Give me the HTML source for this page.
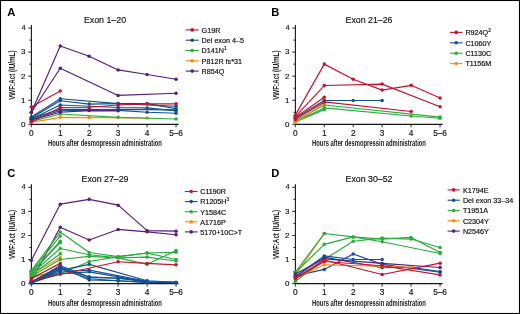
<!DOCTYPE html>
<html><head><meta charset="utf-8"><style>
html,body{margin:0;padding:0;background:#fff;}
body{width:520px;height:314px;overflow:hidden;}
svg{display:block;will-change:transform;font-family:"Liberation Sans",sans-serif;}
</style></head><body>
<svg width="520" height="314" viewBox="0 0 520 314" font-family="Liberation Sans, sans-serif">
<rect x="0" y="0" width="520" height="314" fill="#fff"/>
<g transform="translate(0,0)">
<text x="7.2" y="16.2" font-size="11.2" font-weight="bold" fill="#000">A</text>
<text x="105" y="22.7" font-size="8.8" text-anchor="middle" fill="#111" stroke="#111" stroke-width="0.15">Exon 1–20</text>
<line x1="31.4" y1="25" x2="31.4" y2="124.8" stroke="#151515" stroke-width="1.1"/>
<line x1="30.9" y1="124.4" x2="178.7" y2="124.4" stroke="#151515" stroke-width="1.2"/>
<line x1="28.2" y1="124.30" x2="31.4" y2="124.30" stroke="#151515" stroke-width="0.9"/>
<line x1="29.4" y1="112.27" x2="31.4" y2="112.27" stroke="#151515" stroke-width="0.9"/>
<text x="25.5" y="126.65" font-size="8.0" text-anchor="end" fill="#111" stroke="#111" stroke-width="0.15">0</text>
<line x1="28.2" y1="100.23" x2="31.4" y2="100.23" stroke="#151515" stroke-width="0.9"/>
<line x1="29.4" y1="88.19" x2="31.4" y2="88.19" stroke="#151515" stroke-width="0.9"/>
<text x="25.5" y="102.58" font-size="8.0" text-anchor="end" fill="#111" stroke="#111" stroke-width="0.15">1</text>
<line x1="28.2" y1="76.16" x2="31.4" y2="76.16" stroke="#151515" stroke-width="0.9"/>
<line x1="29.4" y1="64.12" x2="31.4" y2="64.12" stroke="#151515" stroke-width="0.9"/>
<text x="25.5" y="78.51" font-size="8.0" text-anchor="end" fill="#111" stroke="#111" stroke-width="0.15">2</text>
<line x1="28.2" y1="52.09" x2="31.4" y2="52.09" stroke="#151515" stroke-width="0.9"/>
<line x1="29.4" y1="40.05" x2="31.4" y2="40.05" stroke="#151515" stroke-width="0.9"/>
<text x="25.5" y="54.44" font-size="8.0" text-anchor="end" fill="#111" stroke="#111" stroke-width="0.15">3</text>
<line x1="28.2" y1="28.02" x2="31.4" y2="28.02" stroke="#151515" stroke-width="0.9"/>
<text x="25.5" y="29.92" font-size="6.8" text-anchor="end" fill="#111" stroke="#111" stroke-width="0.15">4</text>
<line x1="31.30" y1="124.3" x2="31.30" y2="127.3" stroke="#151515" stroke-width="0.9"/>
<text x="31.30" y="135.7" font-size="8.3" text-anchor="middle" fill="#111" stroke="#111" stroke-width="0.15">0</text>
<line x1="60.25" y1="124.3" x2="60.25" y2="127.3" stroke="#151515" stroke-width="0.9"/>
<text x="60.25" y="135.7" font-size="8.3" text-anchor="middle" fill="#111" stroke="#111" stroke-width="0.15">1</text>
<line x1="89.20" y1="124.3" x2="89.20" y2="127.3" stroke="#151515" stroke-width="0.9"/>
<text x="89.20" y="135.7" font-size="8.3" text-anchor="middle" fill="#111" stroke="#111" stroke-width="0.15">2</text>
<line x1="118.15" y1="124.3" x2="118.15" y2="127.3" stroke="#151515" stroke-width="0.9"/>
<text x="118.15" y="135.7" font-size="8.3" text-anchor="middle" fill="#111" stroke="#111" stroke-width="0.15">3</text>
<line x1="147.10" y1="124.3" x2="147.10" y2="127.3" stroke="#151515" stroke-width="0.9"/>
<text x="147.10" y="135.7" font-size="8.3" text-anchor="middle" fill="#111" stroke="#111" stroke-width="0.15">4</text>
<line x1="176.05" y1="124.3" x2="176.05" y2="127.3" stroke="#151515" stroke-width="0.9"/>
<text x="176.05" y="135.7" font-size="8.3" text-anchor="middle" fill="#111" stroke="#111" stroke-width="0.15">5–6</text>
<text x="48.1" y="146.4" font-size="9" font-weight="bold" textLength="113.8" lengthAdjust="spacingAndGlyphs" fill="#1a1a1a">Hours after desmopressin administration</text>
<text transform="translate(15.1,99.8) rotate(-90)" x="0" y="0" font-size="9.2" font-weight="bold" textLength="49.3" lengthAdjust="spacingAndGlyphs" fill="#1a1a1a">VWF:Act (IU/mL)</text>
<polyline points="31.30,117.08 60.25,98.79 118.15,103.60 176.05,106.25" fill="none" stroke="#10508f" stroke-width="1.15" stroke-linejoin="round"/>
<circle cx="31.30" cy="117.08" r="1.75" fill="#10508f"/>
<circle cx="60.25" cy="98.79" r="1.75" fill="#10508f"/>
<circle cx="118.15" cy="103.60" r="1.75" fill="#10508f"/>
<circle cx="176.05" cy="106.25" r="1.75" fill="#10508f"/>
<polyline points="31.30,118.04 60.25,100.71 89.20,104.08 118.15,103.60 147.10,103.60 176.05,108.65" fill="none" stroke="#10508f" stroke-width="1.15" stroke-linejoin="round"/>
<circle cx="31.30" cy="118.04" r="1.75" fill="#10508f"/>
<circle cx="60.25" cy="100.71" r="1.75" fill="#10508f"/>
<circle cx="89.20" cy="104.08" r="1.75" fill="#10508f"/>
<circle cx="118.15" cy="103.60" r="1.75" fill="#10508f"/>
<circle cx="147.10" cy="103.60" r="1.75" fill="#10508f"/>
<circle cx="176.05" cy="108.65" r="1.75" fill="#10508f"/>
<polyline points="31.30,119.00 60.25,105.04 118.15,107.45 147.10,107.93 176.05,110.82" fill="none" stroke="#10508f" stroke-width="1.15" stroke-linejoin="round"/>
<circle cx="31.30" cy="119.00" r="1.75" fill="#10508f"/>
<circle cx="60.25" cy="105.04" r="1.75" fill="#10508f"/>
<circle cx="118.15" cy="107.45" r="1.75" fill="#10508f"/>
<circle cx="147.10" cy="107.93" r="1.75" fill="#10508f"/>
<circle cx="176.05" cy="110.82" r="1.75" fill="#10508f"/>
<polyline points="31.30,118.52 60.25,109.38 89.20,109.38 118.15,110.34 147.10,112.27 176.05,113.23" fill="none" stroke="#10508f" stroke-width="1.15" stroke-linejoin="round"/>
<circle cx="31.30" cy="118.52" r="1.75" fill="#10508f"/>
<circle cx="60.25" cy="109.38" r="1.75" fill="#10508f"/>
<circle cx="89.20" cy="109.38" r="1.75" fill="#10508f"/>
<circle cx="118.15" cy="110.34" r="1.75" fill="#10508f"/>
<circle cx="147.10" cy="112.27" r="1.75" fill="#10508f"/>
<circle cx="176.05" cy="113.23" r="1.75" fill="#10508f"/>
<polyline points="31.30,119.49 60.25,110.82 118.15,109.38 176.05,109.86" fill="none" stroke="#10508f" stroke-width="1.15" stroke-linejoin="round"/>
<circle cx="31.30" cy="119.49" r="1.75" fill="#10508f"/>
<circle cx="60.25" cy="110.82" r="1.75" fill="#10508f"/>
<circle cx="118.15" cy="109.38" r="1.75" fill="#10508f"/>
<circle cx="176.05" cy="109.86" r="1.75" fill="#10508f"/>
<polyline points="31.30,122.37 60.25,117.32 89.20,117.56 147.10,118.04" fill="none" stroke="#fa8c0a" stroke-width="1.15" stroke-linejoin="round"/>
<circle cx="31.30" cy="122.37" r="1.75" fill="#fa8c0a"/>
<circle cx="60.25" cy="117.32" r="1.75" fill="#fa8c0a"/>
<circle cx="89.20" cy="117.56" r="1.75" fill="#fa8c0a"/>
<circle cx="147.10" cy="118.04" r="1.75" fill="#fa8c0a"/>
<polyline points="31.30,121.41 60.25,113.95 118.15,117.32 176.05,119.00" fill="none" stroke="#28ac3c" stroke-width="1.15" stroke-linejoin="round"/>
<circle cx="31.30" cy="121.41" r="1.75" fill="#28ac3c"/>
<circle cx="60.25" cy="113.95" r="1.75" fill="#28ac3c"/>
<circle cx="118.15" cy="117.32" r="1.75" fill="#28ac3c"/>
<circle cx="176.05" cy="119.00" r="1.75" fill="#28ac3c"/>
<polyline points="31.30,119.97 60.25,112.27 89.20,110.58 118.15,110.82" fill="none" stroke="#561d79" stroke-width="1.15" stroke-linejoin="round"/>
<circle cx="31.30" cy="119.97" r="1.75" fill="#561d79"/>
<circle cx="60.25" cy="112.27" r="1.75" fill="#561d79"/>
<circle cx="89.20" cy="110.58" r="1.75" fill="#561d79"/>
<circle cx="118.15" cy="110.82" r="1.75" fill="#561d79"/>
<polyline points="31.30,121.89 60.25,107.45 89.20,107.21 118.15,105.04 147.10,103.84 176.05,103.84" fill="none" stroke="#c8102e" stroke-width="1.15" stroke-linejoin="round"/>
<circle cx="31.30" cy="121.89" r="1.75" fill="#c8102e"/>
<circle cx="60.25" cy="107.45" r="1.75" fill="#c8102e"/>
<circle cx="89.20" cy="107.21" r="1.75" fill="#c8102e"/>
<circle cx="118.15" cy="105.04" r="1.75" fill="#c8102e"/>
<circle cx="147.10" cy="103.84" r="1.75" fill="#c8102e"/>
<circle cx="176.05" cy="103.84" r="1.75" fill="#c8102e"/>
<polyline points="31.30,106.97 60.25,91.08" fill="none" stroke="#c8102e" stroke-width="1.15" stroke-linejoin="round"/>
<circle cx="31.30" cy="106.97" r="1.75" fill="#c8102e"/>
<circle cx="60.25" cy="91.08" r="1.75" fill="#c8102e"/>
<polyline points="31.30,112.51 60.25,46.07 89.20,56.18 118.15,69.90 147.10,74.48 176.05,79.29" fill="none" stroke="#561d79" stroke-width="1.15" stroke-linejoin="round"/>
<circle cx="31.30" cy="112.51" r="1.75" fill="#561d79"/>
<circle cx="60.25" cy="46.07" r="1.75" fill="#561d79"/>
<circle cx="89.20" cy="56.18" r="1.75" fill="#561d79"/>
<circle cx="118.15" cy="69.90" r="1.75" fill="#561d79"/>
<circle cx="147.10" cy="74.48" r="1.75" fill="#561d79"/>
<circle cx="176.05" cy="79.29" r="1.75" fill="#561d79"/>
<polyline points="31.30,112.51 60.25,68.22 118.15,95.42 176.05,93.25" fill="none" stroke="#561d79" stroke-width="1.15" stroke-linejoin="round"/>
<circle cx="31.30" cy="112.51" r="1.75" fill="#561d79"/>
<circle cx="60.25" cy="68.22" r="1.75" fill="#561d79"/>
<circle cx="118.15" cy="95.42" r="1.75" fill="#561d79"/>
<circle cx="176.05" cy="93.25" r="1.75" fill="#561d79"/>
<line x1="185.7" y1="29.90" x2="198.7" y2="29.90" stroke="#c8102e" stroke-width="1.1"/>
<circle cx="192.20" cy="29.90" r="1.8" fill="#c8102e"/>
<text x="201.6" y="32.75" font-size="7.2" fill="#111" stroke="#111" stroke-width="0.18">G19R</text>
<line x1="185.7" y1="40.20" x2="198.7" y2="40.20" stroke="#10508f" stroke-width="1.1"/>
<circle cx="192.20" cy="40.20" r="1.8" fill="#10508f"/>
<text x="201.6" y="43.05" font-size="7.2" fill="#111" stroke="#111" stroke-width="0.18">Del exon 4–5</text>
<line x1="185.7" y1="50.50" x2="198.7" y2="50.50" stroke="#28ac3c" stroke-width="1.1"/>
<circle cx="192.20" cy="50.50" r="1.8" fill="#28ac3c"/>
<text x="201.6" y="53.35" font-size="7.2" fill="#111" stroke="#111" stroke-width="0.18">D141N<tspan font-size="4.6" dy="-3">1</tspan></text>
<line x1="185.7" y1="60.80" x2="198.7" y2="60.80" stroke="#fa8c0a" stroke-width="1.1"/>
<circle cx="192.20" cy="60.80" r="1.8" fill="#fa8c0a"/>
<text x="201.6" y="63.65" font-size="7.2" fill="#111" stroke="#111" stroke-width="0.18">P812R fs*31</text>
<line x1="185.7" y1="71.10" x2="198.7" y2="71.10" stroke="#561d79" stroke-width="1.1"/>
<circle cx="192.20" cy="71.10" r="1.8" fill="#561d79"/>
<text x="201.6" y="73.95" font-size="7.2" fill="#111" stroke="#111" stroke-width="0.18">R854Q</text>
</g>
<g transform="translate(264,0)">
<text x="7.2" y="16.2" font-size="11.2" font-weight="bold" fill="#000">B</text>
<text x="105" y="22.7" font-size="8.8" text-anchor="middle" fill="#111" stroke="#111" stroke-width="0.15">Exon 21–26</text>
<line x1="31.4" y1="25" x2="31.4" y2="124.8" stroke="#151515" stroke-width="1.1"/>
<line x1="30.9" y1="124.4" x2="178.7" y2="124.4" stroke="#151515" stroke-width="1.2"/>
<line x1="28.2" y1="124.30" x2="31.4" y2="124.30" stroke="#151515" stroke-width="0.9"/>
<line x1="29.4" y1="112.27" x2="31.4" y2="112.27" stroke="#151515" stroke-width="0.9"/>
<text x="25.5" y="126.65" font-size="8.0" text-anchor="end" fill="#111" stroke="#111" stroke-width="0.15">0</text>
<line x1="28.2" y1="100.23" x2="31.4" y2="100.23" stroke="#151515" stroke-width="0.9"/>
<line x1="29.4" y1="88.19" x2="31.4" y2="88.19" stroke="#151515" stroke-width="0.9"/>
<text x="25.5" y="102.58" font-size="8.0" text-anchor="end" fill="#111" stroke="#111" stroke-width="0.15">1</text>
<line x1="28.2" y1="76.16" x2="31.4" y2="76.16" stroke="#151515" stroke-width="0.9"/>
<line x1="29.4" y1="64.12" x2="31.4" y2="64.12" stroke="#151515" stroke-width="0.9"/>
<text x="25.5" y="78.51" font-size="8.0" text-anchor="end" fill="#111" stroke="#111" stroke-width="0.15">2</text>
<line x1="28.2" y1="52.09" x2="31.4" y2="52.09" stroke="#151515" stroke-width="0.9"/>
<line x1="29.4" y1="40.05" x2="31.4" y2="40.05" stroke="#151515" stroke-width="0.9"/>
<text x="25.5" y="54.44" font-size="8.0" text-anchor="end" fill="#111" stroke="#111" stroke-width="0.15">3</text>
<line x1="28.2" y1="28.02" x2="31.4" y2="28.02" stroke="#151515" stroke-width="0.9"/>
<text x="25.5" y="29.92" font-size="6.8" text-anchor="end" fill="#111" stroke="#111" stroke-width="0.15">4</text>
<line x1="31.30" y1="124.3" x2="31.30" y2="127.3" stroke="#151515" stroke-width="0.9"/>
<text x="31.30" y="135.7" font-size="8.3" text-anchor="middle" fill="#111" stroke="#111" stroke-width="0.15">0</text>
<line x1="60.25" y1="124.3" x2="60.25" y2="127.3" stroke="#151515" stroke-width="0.9"/>
<text x="60.25" y="135.7" font-size="8.3" text-anchor="middle" fill="#111" stroke="#111" stroke-width="0.15">1</text>
<line x1="89.20" y1="124.3" x2="89.20" y2="127.3" stroke="#151515" stroke-width="0.9"/>
<text x="89.20" y="135.7" font-size="8.3" text-anchor="middle" fill="#111" stroke="#111" stroke-width="0.15">2</text>
<line x1="118.15" y1="124.3" x2="118.15" y2="127.3" stroke="#151515" stroke-width="0.9"/>
<text x="118.15" y="135.7" font-size="8.3" text-anchor="middle" fill="#111" stroke="#111" stroke-width="0.15">3</text>
<line x1="147.10" y1="124.3" x2="147.10" y2="127.3" stroke="#151515" stroke-width="0.9"/>
<text x="147.10" y="135.7" font-size="8.3" text-anchor="middle" fill="#111" stroke="#111" stroke-width="0.15">4</text>
<line x1="176.05" y1="124.3" x2="176.05" y2="127.3" stroke="#151515" stroke-width="0.9"/>
<text x="176.05" y="135.7" font-size="8.3" text-anchor="middle" fill="#111" stroke="#111" stroke-width="0.15">5–6</text>
<text x="48.1" y="146.4" font-size="9" font-weight="bold" textLength="113.8" lengthAdjust="spacingAndGlyphs" fill="#1a1a1a">Hours after desmopressin administration</text>
<text transform="translate(15.1,99.8) rotate(-90)" x="0" y="0" font-size="9.2" font-weight="bold" textLength="49.3" lengthAdjust="spacingAndGlyphs" fill="#1a1a1a">VWF:Act (IU/mL)</text>
<polyline points="31.30,120.93 60.25,105.04 176.05,117.08" fill="none" stroke="#28ac3c" stroke-width="1.15" stroke-linejoin="round"/>
<circle cx="31.30" cy="120.93" r="1.75" fill="#28ac3c"/>
<circle cx="60.25" cy="105.04" r="1.75" fill="#28ac3c"/>
<circle cx="176.05" cy="117.08" r="1.75" fill="#28ac3c"/>
<polyline points="31.30,121.41 60.25,107.93 147.10,116.00 176.05,118.28" fill="none" stroke="#28ac3c" stroke-width="1.15" stroke-linejoin="round"/>
<circle cx="31.30" cy="121.41" r="1.75" fill="#28ac3c"/>
<circle cx="60.25" cy="107.93" r="1.75" fill="#28ac3c"/>
<circle cx="147.10" cy="116.00" r="1.75" fill="#28ac3c"/>
<circle cx="176.05" cy="118.28" r="1.75" fill="#28ac3c"/>
<polyline points="31.30,121.89 60.25,109.62" fill="none" stroke="#28ac3c" stroke-width="1.15" stroke-linejoin="round"/>
<circle cx="31.30" cy="121.89" r="1.75" fill="#28ac3c"/>
<circle cx="60.25" cy="109.62" r="1.75" fill="#28ac3c"/>
<polyline points="31.30,122.62 60.25,103.12" fill="none" stroke="#fa8c0a" stroke-width="1.15" stroke-linejoin="round"/>
<circle cx="31.30" cy="122.62" r="1.75" fill="#fa8c0a"/>
<circle cx="60.25" cy="103.12" r="1.75" fill="#fa8c0a"/>
<polyline points="31.30,118.28 60.25,100.47 89.20,100.47 118.15,100.47" fill="none" stroke="#10508f" stroke-width="1.15" stroke-linejoin="round"/>
<circle cx="31.30" cy="118.28" r="1.75" fill="#10508f"/>
<circle cx="60.25" cy="100.47" r="1.75" fill="#10508f"/>
<circle cx="89.20" cy="100.47" r="1.75" fill="#10508f"/>
<circle cx="118.15" cy="100.47" r="1.75" fill="#10508f"/>
<polyline points="31.30,119.49 60.25,101.91 147.10,111.54" fill="none" stroke="#c8102e" stroke-width="1.15" stroke-linejoin="round"/>
<circle cx="31.30" cy="119.49" r="1.75" fill="#c8102e"/>
<circle cx="60.25" cy="101.91" r="1.75" fill="#c8102e"/>
<circle cx="147.10" cy="111.54" r="1.75" fill="#c8102e"/>
<polyline points="31.30,117.56 60.25,97.34" fill="none" stroke="#c8102e" stroke-width="1.15" stroke-linejoin="round"/>
<circle cx="31.30" cy="117.56" r="1.75" fill="#c8102e"/>
<circle cx="60.25" cy="97.34" r="1.75" fill="#c8102e"/>
<polyline points="31.30,116.60 60.25,85.55 118.15,84.10 176.05,106.73" fill="none" stroke="#c8102e" stroke-width="1.15" stroke-linejoin="round"/>
<circle cx="31.30" cy="116.60" r="1.75" fill="#c8102e"/>
<circle cx="60.25" cy="85.55" r="1.75" fill="#c8102e"/>
<circle cx="118.15" cy="84.10" r="1.75" fill="#c8102e"/>
<circle cx="176.05" cy="106.73" r="1.75" fill="#c8102e"/>
<polyline points="31.30,115.15 60.25,64.12 89.20,79.29 118.15,90.12 147.10,85.31 176.05,98.06" fill="none" stroke="#c8102e" stroke-width="1.15" stroke-linejoin="round"/>
<circle cx="31.30" cy="115.15" r="1.75" fill="#c8102e"/>
<circle cx="60.25" cy="64.12" r="1.75" fill="#c8102e"/>
<circle cx="89.20" cy="79.29" r="1.75" fill="#c8102e"/>
<circle cx="118.15" cy="90.12" r="1.75" fill="#c8102e"/>
<circle cx="147.10" cy="85.31" r="1.75" fill="#c8102e"/>
<circle cx="176.05" cy="98.06" r="1.75" fill="#c8102e"/>
<line x1="185.9" y1="32.40" x2="198.5" y2="32.40" stroke="#c8102e" stroke-width="1.1"/>
<circle cx="192.20" cy="32.40" r="1.8" fill="#c8102e"/>
<text x="201.4" y="35.25" font-size="7.2" fill="#111" stroke="#111" stroke-width="0.18">R924Q<tspan font-size="4.6" dy="-3">2</tspan></text>
<line x1="185.9" y1="42.80" x2="198.5" y2="42.80" stroke="#10508f" stroke-width="1.1"/>
<circle cx="192.20" cy="42.80" r="1.8" fill="#10508f"/>
<text x="201.4" y="45.65" font-size="7.2" fill="#111" stroke="#111" stroke-width="0.18">C1060Y</text>
<line x1="185.9" y1="53.20" x2="198.5" y2="53.20" stroke="#28ac3c" stroke-width="1.1"/>
<circle cx="192.20" cy="53.20" r="1.8" fill="#28ac3c"/>
<text x="201.4" y="56.05" font-size="7.2" fill="#111" stroke="#111" stroke-width="0.18">C1130C</text>
<line x1="185.9" y1="63.60" x2="198.5" y2="63.60" stroke="#fa8c0a" stroke-width="1.1"/>
<circle cx="192.20" cy="63.60" r="1.8" fill="#fa8c0a"/>
<text x="201.4" y="66.45" font-size="7.2" fill="#111" stroke="#111" stroke-width="0.18">T1156M</text>
</g>
<g transform="translate(0,159.3)">
<text x="7.2" y="18.2" font-size="11.2" font-weight="bold" fill="#000">C</text>
<text x="105" y="22.7" font-size="8.8" text-anchor="middle" fill="#111" stroke="#111" stroke-width="0.15">Exon 27–29</text>
<line x1="31.4" y1="25" x2="31.4" y2="124.8" stroke="#151515" stroke-width="1.1"/>
<line x1="30.9" y1="124.4" x2="178.7" y2="124.4" stroke="#151515" stroke-width="1.2"/>
<line x1="28.2" y1="124.30" x2="31.4" y2="124.30" stroke="#151515" stroke-width="0.9"/>
<line x1="29.4" y1="112.27" x2="31.4" y2="112.27" stroke="#151515" stroke-width="0.9"/>
<text x="25.5" y="126.65" font-size="8.0" text-anchor="end" fill="#111" stroke="#111" stroke-width="0.15">0</text>
<line x1="28.2" y1="100.23" x2="31.4" y2="100.23" stroke="#151515" stroke-width="0.9"/>
<line x1="29.4" y1="88.19" x2="31.4" y2="88.19" stroke="#151515" stroke-width="0.9"/>
<text x="25.5" y="102.58" font-size="8.0" text-anchor="end" fill="#111" stroke="#111" stroke-width="0.15">1</text>
<line x1="28.2" y1="76.16" x2="31.4" y2="76.16" stroke="#151515" stroke-width="0.9"/>
<line x1="29.4" y1="64.12" x2="31.4" y2="64.12" stroke="#151515" stroke-width="0.9"/>
<text x="25.5" y="78.51" font-size="8.0" text-anchor="end" fill="#111" stroke="#111" stroke-width="0.15">2</text>
<line x1="28.2" y1="52.09" x2="31.4" y2="52.09" stroke="#151515" stroke-width="0.9"/>
<line x1="29.4" y1="40.05" x2="31.4" y2="40.05" stroke="#151515" stroke-width="0.9"/>
<text x="25.5" y="54.44" font-size="8.0" text-anchor="end" fill="#111" stroke="#111" stroke-width="0.15">3</text>
<line x1="28.2" y1="28.02" x2="31.4" y2="28.02" stroke="#151515" stroke-width="0.9"/>
<text x="25.5" y="29.92" font-size="6.8" text-anchor="end" fill="#111" stroke="#111" stroke-width="0.15">4</text>
<line x1="31.30" y1="124.3" x2="31.30" y2="127.3" stroke="#151515" stroke-width="0.9"/>
<text x="31.30" y="135.7" font-size="8.3" text-anchor="middle" fill="#111" stroke="#111" stroke-width="0.15">0</text>
<line x1="60.25" y1="124.3" x2="60.25" y2="127.3" stroke="#151515" stroke-width="0.9"/>
<text x="60.25" y="135.7" font-size="8.3" text-anchor="middle" fill="#111" stroke="#111" stroke-width="0.15">1</text>
<line x1="89.20" y1="124.3" x2="89.20" y2="127.3" stroke="#151515" stroke-width="0.9"/>
<text x="89.20" y="135.7" font-size="8.3" text-anchor="middle" fill="#111" stroke="#111" stroke-width="0.15">2</text>
<line x1="118.15" y1="124.3" x2="118.15" y2="127.3" stroke="#151515" stroke-width="0.9"/>
<text x="118.15" y="135.7" font-size="8.3" text-anchor="middle" fill="#111" stroke="#111" stroke-width="0.15">3</text>
<line x1="147.10" y1="124.3" x2="147.10" y2="127.3" stroke="#151515" stroke-width="0.9"/>
<text x="147.10" y="135.7" font-size="8.3" text-anchor="middle" fill="#111" stroke="#111" stroke-width="0.15">4</text>
<line x1="176.05" y1="124.3" x2="176.05" y2="127.3" stroke="#151515" stroke-width="0.9"/>
<text x="176.05" y="135.7" font-size="8.3" text-anchor="middle" fill="#111" stroke="#111" stroke-width="0.15">5–6</text>
<text x="48.1" y="146.4" font-size="9" font-weight="bold" textLength="113.8" lengthAdjust="spacingAndGlyphs" fill="#1a1a1a">Hours after desmopressin administration</text>
<text transform="translate(15.1,99.8) rotate(-90)" x="0" y="0" font-size="9.2" font-weight="bold" textLength="49.3" lengthAdjust="spacingAndGlyphs" fill="#1a1a1a">VWF:Act (IU/mL)</text>
<polyline points="31.30,101.19 60.25,44.87 89.20,40.05 118.15,45.83 147.10,71.35 176.05,71.83" fill="none" stroke="#561d79" stroke-width="1.15" stroke-linejoin="round"/>
<circle cx="31.30" cy="101.19" r="1.75" fill="#561d79"/>
<circle cx="60.25" cy="44.87" r="1.75" fill="#561d79"/>
<circle cx="89.20" cy="40.05" r="1.75" fill="#561d79"/>
<circle cx="118.15" cy="45.83" r="1.75" fill="#561d79"/>
<circle cx="147.10" cy="71.35" r="1.75" fill="#561d79"/>
<circle cx="176.05" cy="71.83" r="1.75" fill="#561d79"/>
<polyline points="31.30,121.89 60.25,67.98 89.20,80.73 118.15,70.14 147.10,72.55 176.05,75.44" fill="none" stroke="#561d79" stroke-width="1.15" stroke-linejoin="round"/>
<circle cx="31.30" cy="121.89" r="1.75" fill="#561d79"/>
<circle cx="60.25" cy="67.98" r="1.75" fill="#561d79"/>
<circle cx="89.20" cy="80.73" r="1.75" fill="#561d79"/>
<circle cx="118.15" cy="70.14" r="1.75" fill="#561d79"/>
<circle cx="147.10" cy="72.55" r="1.75" fill="#561d79"/>
<circle cx="176.05" cy="75.44" r="1.75" fill="#561d79"/>
<polyline points="31.30,115.15 60.25,98.30" fill="none" stroke="#fa8c0a" stroke-width="1.15" stroke-linejoin="round"/>
<circle cx="31.30" cy="115.15" r="1.75" fill="#fa8c0a"/>
<circle cx="60.25" cy="98.30" r="1.75" fill="#fa8c0a"/>
<polyline points="31.30,111.30 60.25,72.79 89.20,93.25 118.15,97.34 147.10,93.73 176.05,93.01" fill="none" stroke="#28ac3c" stroke-width="1.15" stroke-linejoin="round"/>
<circle cx="31.30" cy="111.30" r="1.75" fill="#28ac3c"/>
<circle cx="60.25" cy="72.79" r="1.75" fill="#28ac3c"/>
<circle cx="89.20" cy="93.25" r="1.75" fill="#28ac3c"/>
<circle cx="118.15" cy="97.34" r="1.75" fill="#28ac3c"/>
<circle cx="147.10" cy="93.73" r="1.75" fill="#28ac3c"/>
<circle cx="176.05" cy="93.01" r="1.75" fill="#28ac3c"/>
<polyline points="31.30,112.27 60.25,76.64" fill="none" stroke="#28ac3c" stroke-width="1.15" stroke-linejoin="round"/>
<circle cx="31.30" cy="112.27" r="1.75" fill="#28ac3c"/>
<circle cx="60.25" cy="76.64" r="1.75" fill="#28ac3c"/>
<polyline points="31.30,113.23 60.25,81.94" fill="none" stroke="#28ac3c" stroke-width="1.15" stroke-linejoin="round"/>
<circle cx="31.30" cy="113.23" r="1.75" fill="#28ac3c"/>
<circle cx="60.25" cy="81.94" r="1.75" fill="#28ac3c"/>
<polyline points="31.30,113.71 60.25,83.14" fill="none" stroke="#28ac3c" stroke-width="1.15" stroke-linejoin="round"/>
<circle cx="31.30" cy="113.71" r="1.75" fill="#28ac3c"/>
<circle cx="60.25" cy="83.14" r="1.75" fill="#28ac3c"/>
<polyline points="31.30,114.67 60.25,89.16 89.20,95.42 118.15,98.55 147.10,105.04 176.05,91.32" fill="none" stroke="#28ac3c" stroke-width="1.15" stroke-linejoin="round"/>
<circle cx="31.30" cy="114.67" r="1.75" fill="#28ac3c"/>
<circle cx="60.25" cy="89.16" r="1.75" fill="#28ac3c"/>
<circle cx="89.20" cy="95.42" r="1.75" fill="#28ac3c"/>
<circle cx="118.15" cy="98.55" r="1.75" fill="#28ac3c"/>
<circle cx="147.10" cy="105.04" r="1.75" fill="#28ac3c"/>
<circle cx="176.05" cy="91.32" r="1.75" fill="#28ac3c"/>
<polyline points="31.30,115.63 60.25,94.45" fill="none" stroke="#28ac3c" stroke-width="1.15" stroke-linejoin="round"/>
<circle cx="31.30" cy="115.63" r="1.75" fill="#28ac3c"/>
<circle cx="60.25" cy="94.45" r="1.75" fill="#28ac3c"/>
<polyline points="31.30,117.08 60.25,100.23 89.20,97.10 118.15,98.55 147.10,97.82 176.05,101.67" fill="none" stroke="#28ac3c" stroke-width="1.15" stroke-linejoin="round"/>
<circle cx="31.30" cy="117.08" r="1.75" fill="#28ac3c"/>
<circle cx="60.25" cy="100.23" r="1.75" fill="#28ac3c"/>
<circle cx="89.20" cy="97.10" r="1.75" fill="#28ac3c"/>
<circle cx="118.15" cy="98.55" r="1.75" fill="#28ac3c"/>
<circle cx="147.10" cy="97.82" r="1.75" fill="#28ac3c"/>
<circle cx="176.05" cy="101.67" r="1.75" fill="#28ac3c"/>
<polyline points="31.30,116.12 60.25,114.67 89.20,102.16 118.15,97.34 147.10,93.73 176.05,100.23" fill="none" stroke="#28ac3c" stroke-width="1.15" stroke-linejoin="round"/>
<circle cx="31.30" cy="116.12" r="1.75" fill="#28ac3c"/>
<circle cx="60.25" cy="114.67" r="1.75" fill="#28ac3c"/>
<circle cx="89.20" cy="102.16" r="1.75" fill="#28ac3c"/>
<circle cx="118.15" cy="97.34" r="1.75" fill="#28ac3c"/>
<circle cx="147.10" cy="93.73" r="1.75" fill="#28ac3c"/>
<circle cx="176.05" cy="100.23" r="1.75" fill="#28ac3c"/>
<polyline points="31.30,119.00 60.25,109.86" fill="none" stroke="#fa8c0a" stroke-width="1.15" stroke-linejoin="round"/>
<circle cx="31.30" cy="119.00" r="1.75" fill="#fa8c0a"/>
<circle cx="60.25" cy="109.86" r="1.75" fill="#fa8c0a"/>
<polyline points="31.30,123.10 60.25,106.25 89.20,118.04 118.15,119.00 147.10,122.62 176.05,123.10" fill="none" stroke="#10508f" stroke-width="1.15" stroke-linejoin="round"/>
<circle cx="31.30" cy="123.10" r="1.75" fill="#10508f"/>
<circle cx="60.25" cy="106.25" r="1.75" fill="#10508f"/>
<circle cx="89.20" cy="118.04" r="1.75" fill="#10508f"/>
<circle cx="118.15" cy="119.00" r="1.75" fill="#10508f"/>
<circle cx="147.10" cy="122.62" r="1.75" fill="#10508f"/>
<circle cx="176.05" cy="123.10" r="1.75" fill="#10508f"/>
<polyline points="31.30,122.37 60.25,107.45 89.20,120.69 118.15,121.41 147.10,123.10" fill="none" stroke="#10508f" stroke-width="1.15" stroke-linejoin="round"/>
<circle cx="31.30" cy="122.37" r="1.75" fill="#10508f"/>
<circle cx="60.25" cy="107.45" r="1.75" fill="#10508f"/>
<circle cx="89.20" cy="120.69" r="1.75" fill="#10508f"/>
<circle cx="118.15" cy="121.41" r="1.75" fill="#10508f"/>
<circle cx="147.10" cy="123.10" r="1.75" fill="#10508f"/>
<polyline points="31.30,123.58 60.25,111.06 89.20,105.04 147.10,121.41 176.05,123.10" fill="none" stroke="#10508f" stroke-width="1.15" stroke-linejoin="round"/>
<circle cx="31.30" cy="123.58" r="1.75" fill="#10508f"/>
<circle cx="60.25" cy="111.06" r="1.75" fill="#10508f"/>
<circle cx="89.20" cy="105.04" r="1.75" fill="#10508f"/>
<circle cx="147.10" cy="121.41" r="1.75" fill="#10508f"/>
<circle cx="176.05" cy="123.10" r="1.75" fill="#10508f"/>
<polyline points="31.30,123.82 60.25,112.75 89.20,110.82 147.10,121.89" fill="none" stroke="#10508f" stroke-width="1.15" stroke-linejoin="round"/>
<circle cx="31.30" cy="123.82" r="1.75" fill="#10508f"/>
<circle cx="60.25" cy="112.75" r="1.75" fill="#10508f"/>
<circle cx="89.20" cy="110.82" r="1.75" fill="#10508f"/>
<circle cx="147.10" cy="121.89" r="1.75" fill="#10508f"/>
<polyline points="31.30,123.10 60.25,114.67 89.20,112.51 147.10,122.62 176.05,123.10" fill="none" stroke="#10508f" stroke-width="1.15" stroke-linejoin="round"/>
<circle cx="31.30" cy="123.10" r="1.75" fill="#10508f"/>
<circle cx="60.25" cy="114.67" r="1.75" fill="#10508f"/>
<circle cx="89.20" cy="112.51" r="1.75" fill="#10508f"/>
<circle cx="147.10" cy="122.62" r="1.75" fill="#10508f"/>
<circle cx="176.05" cy="123.10" r="1.75" fill="#10508f"/>
<polyline points="31.30,123.82 60.25,109.38 89.20,119.49 118.15,121.41 147.10,123.10 176.05,123.34" fill="none" stroke="#10508f" stroke-width="1.15" stroke-linejoin="round"/>
<circle cx="31.30" cy="123.82" r="1.75" fill="#10508f"/>
<circle cx="60.25" cy="109.38" r="1.75" fill="#10508f"/>
<circle cx="89.20" cy="119.49" r="1.75" fill="#10508f"/>
<circle cx="118.15" cy="121.41" r="1.75" fill="#10508f"/>
<circle cx="147.10" cy="123.10" r="1.75" fill="#10508f"/>
<circle cx="176.05" cy="123.34" r="1.75" fill="#10508f"/>
<polyline points="31.30,123.34 60.25,108.41 89.20,117.56 118.15,119.00 147.10,121.89" fill="none" stroke="#10508f" stroke-width="1.15" stroke-linejoin="round"/>
<circle cx="31.30" cy="123.34" r="1.75" fill="#10508f"/>
<circle cx="60.25" cy="108.41" r="1.75" fill="#10508f"/>
<circle cx="89.20" cy="117.56" r="1.75" fill="#10508f"/>
<circle cx="118.15" cy="119.00" r="1.75" fill="#10508f"/>
<circle cx="147.10" cy="121.89" r="1.75" fill="#10508f"/>
<polyline points="31.30,119.25 60.25,104.08" fill="none" stroke="#c8102e" stroke-width="1.15" stroke-linejoin="round"/>
<circle cx="31.30" cy="119.25" r="1.75" fill="#c8102e"/>
<circle cx="60.25" cy="104.08" r="1.75" fill="#c8102e"/>
<polyline points="31.30,121.41 118.15,102.40 147.10,104.08 176.05,105.53" fill="none" stroke="#c8102e" stroke-width="1.15" stroke-linejoin="round"/>
<circle cx="31.30" cy="121.41" r="1.75" fill="#c8102e"/>
<circle cx="118.15" cy="102.40" r="1.75" fill="#c8102e"/>
<circle cx="147.10" cy="104.08" r="1.75" fill="#c8102e"/>
<circle cx="176.05" cy="105.53" r="1.75" fill="#c8102e"/>
<line x1="184.8" y1="32.20" x2="197.6" y2="32.20" stroke="#c8102e" stroke-width="1.1"/>
<circle cx="191.20" cy="32.20" r="1.8" fill="#c8102e"/>
<text x="200.2" y="35.05" font-size="7.2" fill="#111" stroke="#111" stroke-width="0.18">C1190R</text>
<line x1="184.8" y1="42.30" x2="197.6" y2="42.30" stroke="#10508f" stroke-width="1.1"/>
<circle cx="191.20" cy="42.30" r="1.8" fill="#10508f"/>
<text x="200.2" y="45.15" font-size="7.2" fill="#111" stroke="#111" stroke-width="0.18">R1205H<tspan font-size="4.6" dy="-3">3</tspan></text>
<line x1="184.8" y1="52.40" x2="197.6" y2="52.40" stroke="#28ac3c" stroke-width="1.1"/>
<circle cx="191.20" cy="52.40" r="1.8" fill="#28ac3c"/>
<text x="200.2" y="55.25" font-size="7.2" fill="#111" stroke="#111" stroke-width="0.18">Y1584C</text>
<line x1="184.8" y1="62.50" x2="197.6" y2="62.50" stroke="#fa8c0a" stroke-width="1.1"/>
<circle cx="191.20" cy="62.50" r="1.8" fill="#fa8c0a"/>
<text x="200.2" y="65.35" font-size="7.2" fill="#111" stroke="#111" stroke-width="0.18">A1716P</text>
<line x1="184.8" y1="72.60" x2="197.6" y2="72.60" stroke="#561d79" stroke-width="1.1"/>
<circle cx="191.20" cy="72.60" r="1.8" fill="#561d79"/>
<text x="200.2" y="75.45" font-size="7.2" fill="#111" stroke="#111" stroke-width="0.18">5170+10C&gt;T</text>
</g>
<g transform="translate(264,159.3)">
<text x="7.2" y="18.2" font-size="11.2" font-weight="bold" fill="#000">D</text>
<text x="105" y="22.7" font-size="8.8" text-anchor="middle" fill="#111" stroke="#111" stroke-width="0.15">Exon 30–52</text>
<line x1="31.4" y1="25" x2="31.4" y2="124.8" stroke="#151515" stroke-width="1.1"/>
<line x1="30.9" y1="124.4" x2="178.7" y2="124.4" stroke="#151515" stroke-width="1.2"/>
<line x1="28.2" y1="124.30" x2="31.4" y2="124.30" stroke="#151515" stroke-width="0.9"/>
<line x1="29.4" y1="112.27" x2="31.4" y2="112.27" stroke="#151515" stroke-width="0.9"/>
<text x="25.5" y="126.65" font-size="8.0" text-anchor="end" fill="#111" stroke="#111" stroke-width="0.15">0</text>
<line x1="28.2" y1="100.23" x2="31.4" y2="100.23" stroke="#151515" stroke-width="0.9"/>
<line x1="29.4" y1="88.19" x2="31.4" y2="88.19" stroke="#151515" stroke-width="0.9"/>
<text x="25.5" y="102.58" font-size="8.0" text-anchor="end" fill="#111" stroke="#111" stroke-width="0.15">1</text>
<line x1="28.2" y1="76.16" x2="31.4" y2="76.16" stroke="#151515" stroke-width="0.9"/>
<line x1="29.4" y1="64.12" x2="31.4" y2="64.12" stroke="#151515" stroke-width="0.9"/>
<text x="25.5" y="78.51" font-size="8.0" text-anchor="end" fill="#111" stroke="#111" stroke-width="0.15">2</text>
<line x1="28.2" y1="52.09" x2="31.4" y2="52.09" stroke="#151515" stroke-width="0.9"/>
<line x1="29.4" y1="40.05" x2="31.4" y2="40.05" stroke="#151515" stroke-width="0.9"/>
<text x="25.5" y="54.44" font-size="8.0" text-anchor="end" fill="#111" stroke="#111" stroke-width="0.15">3</text>
<line x1="28.2" y1="28.02" x2="31.4" y2="28.02" stroke="#151515" stroke-width="0.9"/>
<text x="25.5" y="29.92" font-size="6.8" text-anchor="end" fill="#111" stroke="#111" stroke-width="0.15">4</text>
<line x1="31.30" y1="124.3" x2="31.30" y2="127.3" stroke="#151515" stroke-width="0.9"/>
<text x="31.30" y="135.7" font-size="8.3" text-anchor="middle" fill="#111" stroke="#111" stroke-width="0.15">0</text>
<line x1="60.25" y1="124.3" x2="60.25" y2="127.3" stroke="#151515" stroke-width="0.9"/>
<text x="60.25" y="135.7" font-size="8.3" text-anchor="middle" fill="#111" stroke="#111" stroke-width="0.15">1</text>
<line x1="89.20" y1="124.3" x2="89.20" y2="127.3" stroke="#151515" stroke-width="0.9"/>
<text x="89.20" y="135.7" font-size="8.3" text-anchor="middle" fill="#111" stroke="#111" stroke-width="0.15">2</text>
<line x1="118.15" y1="124.3" x2="118.15" y2="127.3" stroke="#151515" stroke-width="0.9"/>
<text x="118.15" y="135.7" font-size="8.3" text-anchor="middle" fill="#111" stroke="#111" stroke-width="0.15">3</text>
<line x1="147.10" y1="124.3" x2="147.10" y2="127.3" stroke="#151515" stroke-width="0.9"/>
<text x="147.10" y="135.7" font-size="8.3" text-anchor="middle" fill="#111" stroke="#111" stroke-width="0.15">4</text>
<line x1="176.05" y1="124.3" x2="176.05" y2="127.3" stroke="#151515" stroke-width="0.9"/>
<text x="176.05" y="135.7" font-size="8.3" text-anchor="middle" fill="#111" stroke="#111" stroke-width="0.15">5–6</text>
<text x="48.1" y="146.4" font-size="9" font-weight="bold" textLength="113.8" lengthAdjust="spacingAndGlyphs" fill="#1a1a1a">Hours after desmopressin administration</text>
<text transform="translate(15.1,99.8) rotate(-90)" x="0" y="0" font-size="9.2" font-weight="bold" textLength="49.3" lengthAdjust="spacingAndGlyphs" fill="#1a1a1a">VWF:Act (IU/mL)</text>
<polyline points="31.30,116.12 60.25,74.23" fill="none" stroke="#fa8c0a" stroke-width="1.15" stroke-linejoin="round"/>
<circle cx="31.30" cy="116.12" r="1.75" fill="#fa8c0a"/>
<circle cx="60.25" cy="74.23" r="1.75" fill="#fa8c0a"/>
<polyline points="31.30,112.99 60.25,74.23 89.20,77.60 118.15,79.77 147.10,78.09 176.05,93.25" fill="none" stroke="#28ac3c" stroke-width="1.15" stroke-linejoin="round"/>
<circle cx="31.30" cy="112.99" r="1.75" fill="#28ac3c"/>
<circle cx="60.25" cy="74.23" r="1.75" fill="#28ac3c"/>
<circle cx="89.20" cy="77.60" r="1.75" fill="#28ac3c"/>
<circle cx="118.15" cy="79.77" r="1.75" fill="#28ac3c"/>
<circle cx="147.10" cy="78.09" r="1.75" fill="#28ac3c"/>
<circle cx="176.05" cy="93.25" r="1.75" fill="#28ac3c"/>
<polyline points="31.30,113.47 60.25,85.07 89.20,77.60 118.15,82.42 176.05,94.21" fill="none" stroke="#28ac3c" stroke-width="1.15" stroke-linejoin="round"/>
<circle cx="31.30" cy="113.47" r="1.75" fill="#28ac3c"/>
<circle cx="60.25" cy="85.07" r="1.75" fill="#28ac3c"/>
<circle cx="89.20" cy="77.60" r="1.75" fill="#28ac3c"/>
<circle cx="118.15" cy="82.42" r="1.75" fill="#28ac3c"/>
<circle cx="176.05" cy="94.21" r="1.75" fill="#28ac3c"/>
<polyline points="31.30,122.13 60.25,100.23 89.20,81.94 118.15,78.81 147.10,79.77 176.05,88.19" fill="none" stroke="#28ac3c" stroke-width="1.15" stroke-linejoin="round"/>
<circle cx="31.30" cy="122.13" r="1.75" fill="#28ac3c"/>
<circle cx="60.25" cy="100.23" r="1.75" fill="#28ac3c"/>
<circle cx="89.20" cy="81.94" r="1.75" fill="#28ac3c"/>
<circle cx="118.15" cy="78.81" r="1.75" fill="#28ac3c"/>
<circle cx="147.10" cy="79.77" r="1.75" fill="#28ac3c"/>
<circle cx="176.05" cy="88.19" r="1.75" fill="#28ac3c"/>
<polyline points="31.30,116.60 60.25,110.10 89.20,94.69 118.15,105.04 176.05,112.99" fill="none" stroke="#10508f" stroke-width="1.15" stroke-linejoin="round"/>
<circle cx="31.30" cy="116.60" r="1.75" fill="#10508f"/>
<circle cx="60.25" cy="110.10" r="1.75" fill="#10508f"/>
<circle cx="89.20" cy="94.69" r="1.75" fill="#10508f"/>
<circle cx="118.15" cy="105.04" r="1.75" fill="#10508f"/>
<circle cx="176.05" cy="112.99" r="1.75" fill="#10508f"/>
<polyline points="31.30,117.08 60.25,96.62 89.20,100.23 118.15,100.23" fill="none" stroke="#10508f" stroke-width="1.15" stroke-linejoin="round"/>
<circle cx="31.30" cy="117.08" r="1.75" fill="#10508f"/>
<circle cx="60.25" cy="96.62" r="1.75" fill="#10508f"/>
<circle cx="89.20" cy="100.23" r="1.75" fill="#10508f"/>
<circle cx="118.15" cy="100.23" r="1.75" fill="#10508f"/>
<polyline points="31.30,117.56 60.25,97.82 118.15,108.41 147.10,107.93 176.05,112.27" fill="none" stroke="#10508f" stroke-width="1.15" stroke-linejoin="round"/>
<circle cx="31.30" cy="117.56" r="1.75" fill="#10508f"/>
<circle cx="60.25" cy="97.82" r="1.75" fill="#10508f"/>
<circle cx="118.15" cy="108.41" r="1.75" fill="#10508f"/>
<circle cx="147.10" cy="107.93" r="1.75" fill="#10508f"/>
<circle cx="176.05" cy="112.27" r="1.75" fill="#10508f"/>
<polyline points="31.30,114.67 60.25,99.51 118.15,104.08 176.05,108.17" fill="none" stroke="#561d79" stroke-width="1.15" stroke-linejoin="round"/>
<circle cx="31.30" cy="114.67" r="1.75" fill="#561d79"/>
<circle cx="60.25" cy="99.51" r="1.75" fill="#561d79"/>
<circle cx="118.15" cy="104.08" r="1.75" fill="#561d79"/>
<circle cx="176.05" cy="108.17" r="1.75" fill="#561d79"/>
<polyline points="31.30,119.00 60.25,105.53 118.15,106.97 147.10,107.93" fill="none" stroke="#fa8c0a" stroke-width="1.15" stroke-linejoin="round"/>
<circle cx="31.30" cy="119.00" r="1.75" fill="#fa8c0a"/>
<circle cx="60.25" cy="105.53" r="1.75" fill="#fa8c0a"/>
<circle cx="118.15" cy="106.97" r="1.75" fill="#fa8c0a"/>
<circle cx="147.10" cy="107.93" r="1.75" fill="#fa8c0a"/>
<polyline points="31.30,118.76 60.25,100.71 118.15,115.15 176.05,103.84" fill="none" stroke="#c8102e" stroke-width="1.15" stroke-linejoin="round"/>
<circle cx="31.30" cy="118.76" r="1.75" fill="#c8102e"/>
<circle cx="60.25" cy="100.71" r="1.75" fill="#c8102e"/>
<circle cx="118.15" cy="115.15" r="1.75" fill="#c8102e"/>
<circle cx="176.05" cy="103.84" r="1.75" fill="#c8102e"/>
<polyline points="31.30,119.49 60.25,102.16 118.15,106.49 176.05,115.63" fill="none" stroke="#c8102e" stroke-width="1.15" stroke-linejoin="round"/>
<circle cx="31.30" cy="119.49" r="1.75" fill="#c8102e"/>
<circle cx="60.25" cy="102.16" r="1.75" fill="#c8102e"/>
<circle cx="118.15" cy="106.49" r="1.75" fill="#c8102e"/>
<circle cx="176.05" cy="115.63" r="1.75" fill="#c8102e"/>
<line x1="183.6" y1="30.60" x2="195.7" y2="30.60" stroke="#c8102e" stroke-width="1.1"/>
<circle cx="189.65" cy="30.60" r="1.8" fill="#c8102e"/>
<text x="198.9" y="33.45" font-size="7.2" fill="#111" stroke="#111" stroke-width="0.18">K1794E</text>
<line x1="183.6" y1="40.90" x2="195.7" y2="40.90" stroke="#10508f" stroke-width="1.1"/>
<circle cx="189.65" cy="40.90" r="1.8" fill="#10508f"/>
<text x="198.9" y="43.75" font-size="7.2" fill="#111" stroke="#111" stroke-width="0.18">Del exon 33–34</text>
<line x1="183.6" y1="51.20" x2="195.7" y2="51.20" stroke="#28ac3c" stroke-width="1.1"/>
<circle cx="189.65" cy="51.20" r="1.8" fill="#28ac3c"/>
<text x="198.9" y="54.05" font-size="7.2" fill="#111" stroke="#111" stroke-width="0.18">T1951A</text>
<line x1="183.6" y1="61.50" x2="195.7" y2="61.50" stroke="#fa8c0a" stroke-width="1.1"/>
<circle cx="189.65" cy="61.50" r="1.8" fill="#fa8c0a"/>
<text x="198.9" y="64.35" font-size="7.2" fill="#111" stroke="#111" stroke-width="0.18">C2304Y</text>
<line x1="183.6" y1="71.80" x2="195.7" y2="71.80" stroke="#561d79" stroke-width="1.1"/>
<circle cx="189.65" cy="71.80" r="1.8" fill="#561d79"/>
<text x="198.9" y="74.65" font-size="7.2" fill="#111" stroke="#111" stroke-width="0.18">N2546Y</text>
</g>
<rect x="0.5" y="0.5" width="519" height="313" fill="none" stroke="#000" stroke-width="1.1"/>
</svg>
</body></html>
